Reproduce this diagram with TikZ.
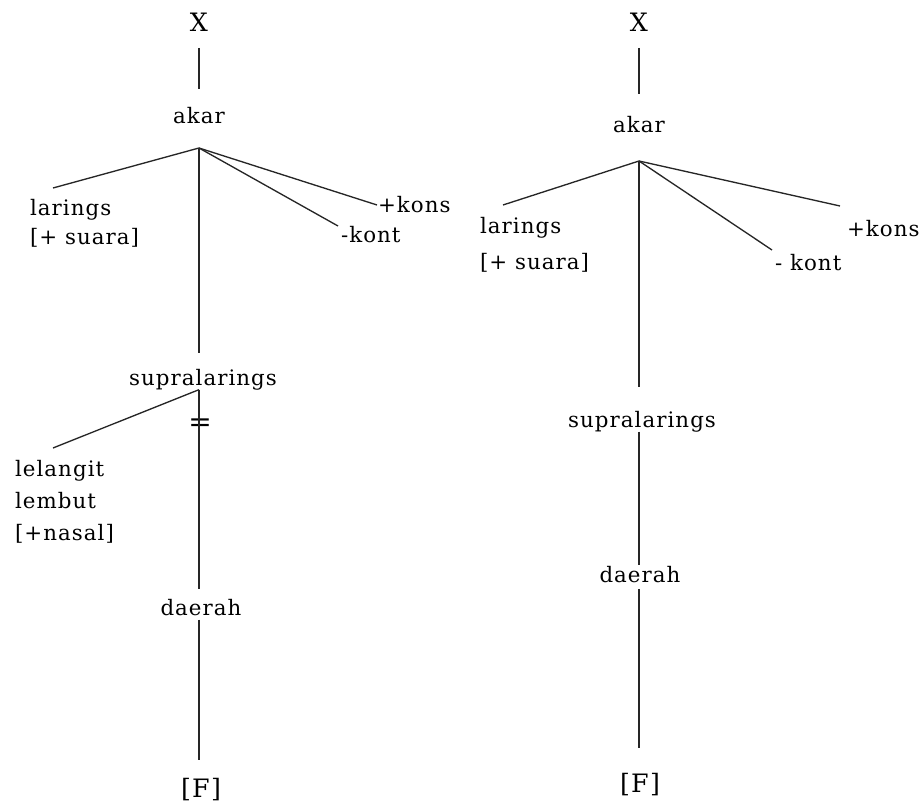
\documentclass[tikz,border=0pt]{standalone}
\usepackage{fontspec}
\setmainfont{DejaVu Serif}[LetterSpace=5]
\usetikzlibrary{calc,positioning}

\begin{document}
\begin{tikzpicture}[
		x=0.75pt, y=-0.75pt,
		every node/.style={inner sep=0pt, outer sep=0pt, text=black},
		% Stijlen
		lbl/.style={font=\fontsize{16}{19}\selectfont, text height=11pt, text depth=3.5pt, anchor=base},
		big/.style={font=\fontsize{19}{22}\selectfont, text height=14pt, text depth=0pt, anchor=base},
		multi/.style={font=\fontsize{16}{#1}\selectfont, align=left, anchor=north west},
		side/.style={lbl, anchor=base west},
		tak/.style={draw=black!85, line width=1pt}
	]

	\useasboundingbox (0,0) rectangle (920,802);

	% --- Parameters ---
	\def\colL{199}   % stam linker boom
	\def\colR{639}   % stam rechter boom

	% --- 1. LINKER BOOM ---
	\node[big] (xL) at (\colL,32) {X};
	\node[lbl] (akarL) at (\colL,124) {akar};
	\coordinate (rootL) at (\colL,148);

	\node[multi=21.75pt] (laringsL) at (30,199) {larings\\{[+ suara]}};
	\node[side] (konsL) at (378,213) {+kons};
	\node[side] (kontL) at (341,243) {-kont};

	\node[lbl] (supraL) at (\colL+4,385) {supralarings};
	\node[lbl, font=\fontsize{21}{24}\selectfont] (eqL) at (\colL+1,431) {=};
	\node[multi=24pt] (velumL) at (15,460) {lelangit\\lembut\\{[+nasal]}};
	\node[lbl] (daerahL) at (\colL+2,615) {daerah};
	\node[big] (FL) at (\colL+2,797) {[F]};

	% eindpunten van de takken
	\coordinate (laringsLe) at ($(laringsL.north west)+(23,-11)$);
	\coordinate (konsLe) at ($(konsL.base west)+(-1,-8)$);
	\coordinate (kontLe) at ($(kontL.base west)+(-3,-17)$);
	\coordinate (velumLe) at ($(velumL.north west)+(38,-12)$);
	\coordinate (subL) at (supraL.south -| rootL);

	\draw[tak, shorten <=12pt, shorten >=15pt] (xL.south) -- (akarL.north);
	\draw[tak] (rootL) -- (laringsLe);
	\draw[tak] (rootL) -- (konsLe);
	\draw[tak] (rootL) -- (kontLe);
	\draw[tak, shorten >=13pt] (rootL) -- (rootL |- supraL.north);
	\draw[tak] (subL) -- (velumLe);
	\draw[tak, shorten >=8.5pt] (subL) -- (subL |- daerahL.north);
	\draw[tak, shorten >=13.7pt] (daerahL.south -| subL) -- (subL |- FL.north);

	% --- 2. RECHTER BOOM ---
	\node[big] (xR) at (\colR,32) {X};
	\node[lbl] (akarR) at (\colR,133) {akar};
	\coordinate (rootR) at (\colR,161);

	\node[multi=27pt] (laringsR) at (480,217) {larings\\{[+ suara]}};
	\node[side] (konsR) at (847,237) {+kons};
	\node[side] (kontR) at (775,271) {- kont};

	\node[lbl] (supraR) at (\colR+3,427) {supralarings};
	\node[lbl] (daerahR) at (\colR+1,582) {daerah};
	\node[big] (FR) at (\colR+1,792) {[F]};

	\coordinate (laringsRe) at ($(laringsR.north west)+(23,-12)$);
	\coordinate (konsRe) at ($(konsR.base west)+(-7,-31)$);
	\coordinate (kontRe) at ($(kontR.base west)+(-3,-21)$);

	\draw[tak, shorten <=12pt, shorten >=18.2pt] (xR.south) -- (akarR.north);
	\draw[tak] (rootR) -- (laringsRe);
	\draw[tak] (rootR) -- (konsRe);
	\draw[tak] (rootR) -- (kontRe);
	\draw[tak, shorten >=19pt] (rootR) -- (rootR |- supraR.north);
	\draw[tak, shorten >=1.7pt] (supraR.south -| rootR) -- (rootR |- daerahR.north);
	\draw[tak, shorten <=1.7pt, shorten >=19pt] (daerahR.south -| rootR) -- (rootR |- FR.north);

\end{tikzpicture}
\end{document}
